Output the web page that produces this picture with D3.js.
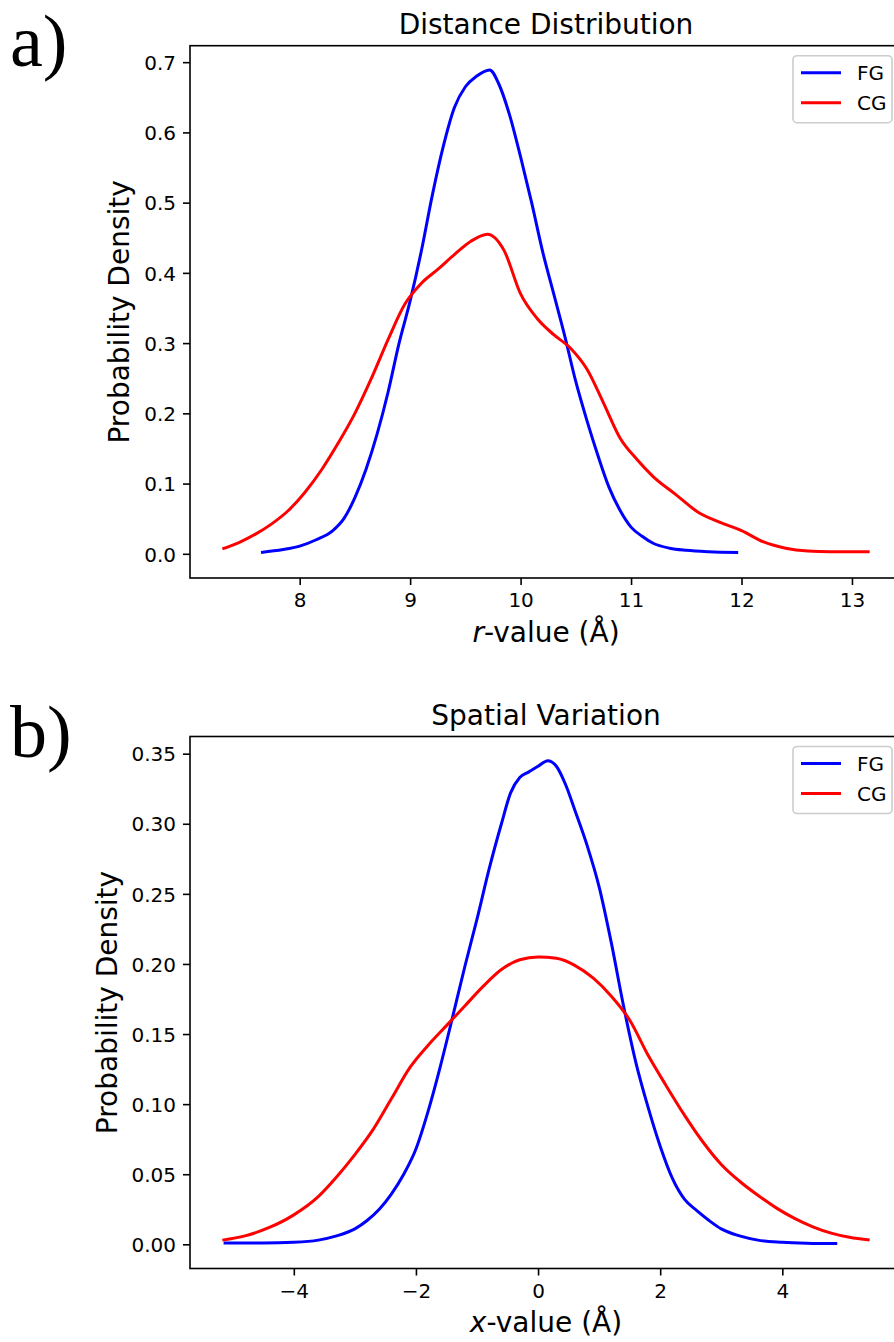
<!DOCTYPE html>
<html>
<head>
<meta charset="utf-8">
<script src="https://cdn.jsdelivr.net/npm/d3@7"></script>
<style>
  html, body { margin: 0; padding: 0; background: #fff; }
  svg { display: block; }
</style>
</head>
<body>
<svg id="chart" width="894" height="1342"></svg>
<script>
// ---------- Data ----------
const seriesNames = ["FG", "CG"];
const seriesColors = ["#0000ff", "#ff0000"];

// Panel a) Distance Distribution
const distFGx = [7.65, 7.85, 8.0, 8.15, 8.3, 8.4, 8.5, 8.6, 8.7, 8.8, 8.9, 9.0, 9.1, 9.2, 9.3, 9.4, 9.5, 9.6, 9.72, 9.8, 9.9, 10.0, 10.1, 10.2, 10.3, 10.4, 10.5, 10.6, 10.7, 10.8, 10.9, 11.0, 11.1, 11.2, 11.35, 11.5, 11.7, 11.97];
const distFGy = [0.002, 0.006, 0.011, 0.02, 0.033, 0.05, 0.08, 0.12, 0.17, 0.23, 0.30, 0.36, 0.43, 0.51, 0.58, 0.635, 0.665, 0.68, 0.689, 0.67, 0.625, 0.565, 0.5, 0.43, 0.37, 0.31, 0.245, 0.19, 0.14, 0.095, 0.062, 0.038, 0.025, 0.015, 0.008, 0.005, 0.003, 0.002];
const distCGx = [7.30, 7.45, 7.6, 7.75, 7.9, 8.05, 8.2, 8.35, 8.5, 8.65, 8.8, 8.95, 9.1, 9.25, 9.4, 9.55, 9.7, 9.85, 10.0, 10.15, 10.3, 10.45, 10.6, 10.75, 10.9, 11.05, 11.2, 11.4, 11.6, 11.8, 12.0, 12.2, 12.4, 12.6, 12.8, 13.0, 13.16];
const distCGy = [0.007, 0.016, 0.028, 0.043, 0.062, 0.088, 0.12, 0.158, 0.2, 0.25, 0.305, 0.355, 0.385, 0.405, 0.426, 0.445, 0.455, 0.432, 0.37, 0.335, 0.312, 0.293, 0.263, 0.215, 0.165, 0.135, 0.11, 0.085, 0.06, 0.045, 0.033, 0.017, 0.008, 0.004, 0.003, 0.003, 0.003];
const distXTicks = [8, 9, 10, 11, 12, 13];
const distYTicks = [0.0, 0.1, 0.2, 0.3, 0.4, 0.5, 0.6, 0.7];

// Panel b) Spatial Variation
const spatFGx = [-5.15, -4.5, -4.0, -3.6, -3.3, -3.0, -2.8, -2.6, -2.4, -2.2, -2.0, -1.8, -1.6, -1.4, -1.2, -1.0, -0.8, -0.6, -0.45, -0.3, -0.15, 0.0, 0.16, 0.3, 0.45, 0.6, 0.8, 1.0, 1.2, 1.4, 1.6, 1.8, 2.0, 2.2, 2.4, 2.6, 2.8, 3.0, 3.3, 3.6, 4.0, 4.4, 4.9];
const spatFGy = [0.001, 0.001, 0.0015, 0.003, 0.006, 0.011, 0.017, 0.025, 0.036, 0.05, 0.068, 0.095, 0.127, 0.162, 0.198, 0.232, 0.268, 0.3, 0.322, 0.333, 0.337, 0.341, 0.345, 0.341, 0.328, 0.31, 0.285, 0.255, 0.215, 0.17, 0.13, 0.098, 0.07, 0.047, 0.032, 0.024, 0.017, 0.011, 0.006, 0.003, 0.0015, 0.0008, 0.0005];
const spatCGx = [-5.17, -4.8, -4.4, -4.0, -3.6, -3.3, -3.0, -2.7, -2.4, -2.1, -1.8, -1.5, -1.2, -0.9, -0.6, -0.3, 0.0, 0.3, 0.6, 0.9, 1.2, 1.5, 1.8, 2.1, 2.4, 2.7, 3.0, 3.3, 3.6, 3.9, 4.2, 4.5, 4.8, 5.1, 5.43];
const spatCGy = [0.003, 0.006, 0.012, 0.021, 0.034, 0.048, 0.064, 0.082, 0.104, 0.126, 0.142, 0.156, 0.17, 0.184, 0.196, 0.203, 0.205, 0.204, 0.199, 0.19, 0.177, 0.16, 0.135, 0.113, 0.092, 0.073, 0.057, 0.045, 0.035, 0.026, 0.0185, 0.0125, 0.008, 0.005, 0.003];
const spatXTicks = [-4, -2, 0, 2, 4];
const spatYTicks = [0.00, 0.05, 0.10, 0.15, 0.20, 0.25, 0.30, 0.35];

// ---------- Drawing ----------
const svg = d3.select("#chart");
const FONT = "'DejaVu Sans', sans-serif";

function zip(xs, ys) { return xs.map((x, i) => ({ x: x, y: ys[i] })); }

function drawPanel(opt) {
  const { left, right, top, bottom } = opt.box;
  const allX = opt.series.flatMap(s => s.xs);
  const allY = opt.series.flatMap(s => s.ys);
  const xmin = d3.min(allX), xmax = d3.max(allX);
  const ymin = Math.min(0, d3.min(allY)), ymax = d3.max(allY);
  const xm = (xmax - xmin) * 0.05, ym = (ymax - ymin) * 0.05;
  const x = d3.scaleLinear().domain([xmin - xm, xmax + xm]).range([left, right]);
  const y = d3.scaleLinear().domain([ymin - ym, ymax + ym]).range([bottom, top]);

  const g = svg.append("g");

  // lines
  const line = d3.line().x(d => x(d.x)).y(d => y(d.y)).curve(d3.curveMonotoneX);
  opt.series.forEach((s, i) => {
    g.append("path")
      .datum(zip(s.xs, s.ys))
      .attr("fill", "none")
      .attr("stroke", seriesColors[i])
      .attr("stroke-width", 3)
      .attr("stroke-linejoin", "round")
      .attr("stroke-linecap", "butt")
      .attr("d", line);
  });

  // spines
  g.append("rect")
    .attr("x", left).attr("y", top)
    .attr("width", right - left).attr("height", bottom - top)
    .attr("fill", "none").attr("stroke", "#000").attr("stroke-width", 1.6);

  // x axis
  const xAxis = d3.axisBottom(x).tickValues(opt.xTicks).tickSize(7).tickPadding(7)
    .tickFormat(opt.xFmt);
  const gx = g.append("g").attr("transform", `translate(0,${bottom})`).call(xAxis);
  gx.select(".domain").remove();
  gx.selectAll(".tick line").attr("stroke", "#000").attr("stroke-width", 1.6);
  gx.selectAll(".tick text").attr("font-family", FONT).attr("font-size", 20).attr("fill", "#000").attr("dy", "0.76em");

  // y axis
  const yAxis = d3.axisLeft(y).tickValues(opt.yTicks).tickSize(7).tickPadding(7)
    .tickFormat(opt.yFmt);
  const gy = g.append("g").attr("transform", `translate(${left},0)`).call(yAxis);
  gy.select(".domain").remove();
  gy.selectAll(".tick line").attr("stroke", "#000").attr("stroke-width", 1.6);
  gy.selectAll(".tick text").attr("font-family", FONT).attr("font-size", 20).attr("fill", "#000").attr("dy", "0.36em");

  // title
  g.append("text")
    .attr("x", (left + right) / 2).attr("y", top - 12)
    .attr("text-anchor", "middle")
    .attr("font-family", FONT).attr("font-size", 28).attr("fill", "#000")
    .text(opt.title);

  // x label
  const xl = g.append("text")
    .attr("x", (left + right) / 2).attr("y", opt.xLabelY)
    .attr("text-anchor", "middle")
    .attr("font-family", FONT).attr("font-size", 28).attr("fill", "#000");
  xl.append("tspan").attr("font-style", "italic").text(opt.xVar);
  xl.append("tspan").text("-value (Å)");

  // y label
  g.append("text")
    .attr("transform", `translate(${opt.yLabelX},${(top + bottom) / 2}) rotate(-90)`)
    .attr("text-anchor", "middle")
    .attr("font-family", FONT).attr("font-size", 28).attr("fill", "#000")
    .text("Probability Density");

  // legend
  const lgW = 99, lgH = 67;
  const lgX = right - 10 - lgW, lgY = top + 10;
  const lg = g.append("g");
  lg.append("rect")
    .attr("x", lgX).attr("y", lgY).attr("width", lgW).attr("height", lgH)
    .attr("rx", 4).attr("ry", 4)
    .attr("fill", "#fff").attr("fill-opacity", 0.8)
    .attr("stroke", "#cccccc").attr("stroke-width", 1.6);
  seriesNames.forEach((name, i) => {
    const cy = lgY + 17 + i * 30;
    lg.append("line")
      .attr("x1", lgX + 8).attr("x2", lgX + 48)
      .attr("y1", cy).attr("y2", cy)
      .attr("stroke", seriesColors[i]).attr("stroke-width", 3);
    lg.append("text")
      .attr("x", lgX + 64).attr("y", cy).attr("dy", "0.36em")
      .attr("font-family", FONT).attr("font-size", 20).attr("fill", "#000")
      .text(name);
  });

  // panel letter
  svg.append("text")
    .attr("x", opt.letterPos[0]).attr("y", opt.letterPos[1])
    .attr("font-family", "'Liberation Serif', 'Times New Roman', serif")
    .attr("font-size", 74).attr("fill", "#000")
    .text(opt.letter);
}

const fmt1 = d3.format(".1f");
const fmt2 = d3.format(".2f");
const fmtInt = v => (v < 0 ? "\u2212" + Math.abs(v) : String(v));

drawPanel({
  box: { left: 190, right: 902, top: 45.7, bottom: 578 },
  series: [{ xs: distFGx, ys: distFGy }, { xs: distCGx, ys: distCGy }],
  xTicks: distXTicks, yTicks: distYTicks,
  xFmt: fmtInt, yFmt: fmt1,
  title: "Distance Distribution",
  xVar: "r", xLabelY: 642, yLabelX: 129,
  letter: "a)", letterPos: [10, 66]
});

drawPanel({
  box: { left: 190, right: 902, top: 736.5, bottom: 1268.5 },
  series: [{ xs: spatFGx, ys: spatFGy }, { xs: spatCGx, ys: spatCGy }],
  xTicks: spatXTicks, yTicks: spatYTicks,
  xFmt: fmtInt, yFmt: fmt2,
  title: "Spatial Variation",
  xVar: "x", xLabelY: 1332, yLabelX: 117,
  letter: "b)", letterPos: [10, 757]
});
</script>
</body>
</html>
